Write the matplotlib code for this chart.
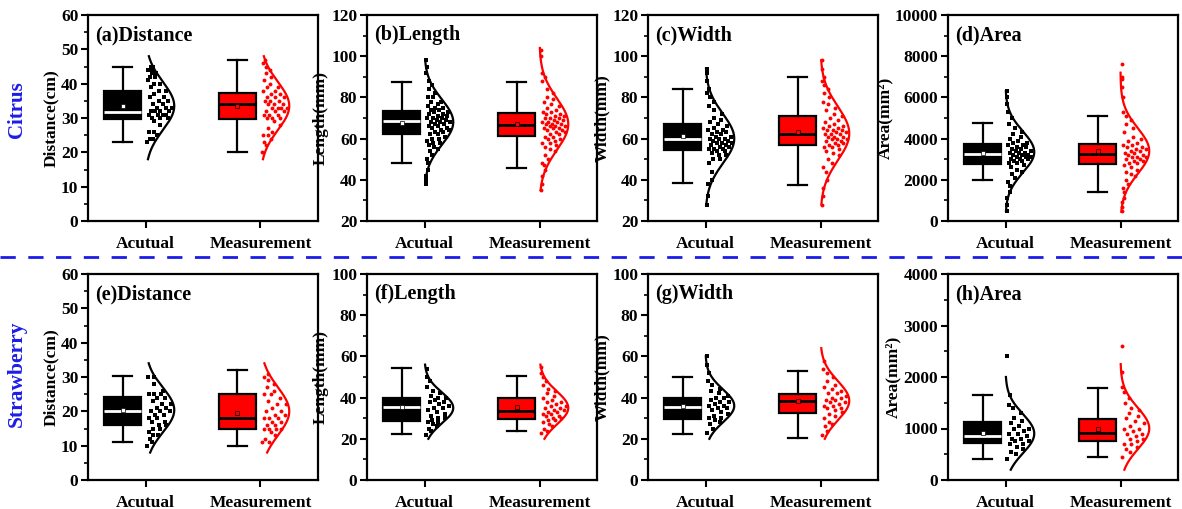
import numpy as np
import matplotlib.pyplot as plt
from matplotlib.ticker import MultipleLocator, AutoMinorLocator

plt.rcParams['font.family'] = ['Liberation Serif', 'DejaVu Serif']
plt.rcParams['font.weight'] = 'bold'

# panel texts and axis ranges
titles = ["(a)Distance", "(b)Length", "(c)Width", "(d)Area",
          "(e)Distance", "(f)Length", "(g)Width", "(h)Area"]
ylabels = ["Distance(cm)", "Length(mm)", "Width(mm)", "Area(mm²)",
           "Distance(cm)", "Length(mm)", "Width(mm)", "Area(mm²)"]
ylims = [(0, 60), (20, 120), (20, 120), (0, 10000),
         (0, 60), (0, 100), (0, 100), (0, 4000)]
ysteps = [10, 20, 20, 2000, 10, 20, 20, 1000]
groups = ["Acutual", "Measurement"]
rows = ["Citrus", "Strawberry"]

# box stats: whisker low, q1, median, q3, whisker high, mean
act_box = [(23, 29.6, 31.8, 38, 45, 33.5),
           (48.2, 62, 68.4, 73.5, 87.3, 67.6),
           (38.4, 54.7, 59.9, 67.3, 84, 61.5),
           (1974, 2767, 3252, 3722, 4773, 3317),
           (11, 15.9, 20.1, 24.3, 30.2, 20.4),
           (22.2, 28.8, 35.6, 40, 54.6, 35.2),
           (22.3, 29.6, 35.6, 39.8, 49.8, 36),
           (401, 712, 854, 1119, 1650, 906)]
mea_box = [(20, 29.8, 34.2, 37.2, 47, 33.6),
           (45.8, 61.1, 66.8, 72.3, 87.6, 67),
           (37.6, 57, 62, 70.8, 89.8, 63.4),
           (1424, 2767, 3252, 3738, 5113, 3414),
           (10, 14.9, 18.1, 25.1, 32.1, 19.6),
           (23.8, 29.5, 33.7, 40, 50.6, 35.3),
           (20.4, 32.5, 38.2, 41.7, 52.8, 38.5),
           (440, 757, 919, 1184, 1786, 990)]

# normal curves: mean, sd, drawn from lo to hi
act_curve = [(33.5, 7, 18, 48), (68, 11, 38, 98), (60, 12, 28, 94),
             (3350, 1000, 500, 6300), (20.4, 6.5, 8, 34), (35, 7.5, 20, 56),
             (36, 8, 20, 60), (900, 380, 200, 2000)]
mea_curve = [(33.5, 7, 18, 48), (67, 12.5, 35, 104), (62.5, 13, 28, 98),
             (3400, 1100, 450, 7200), (20, 7, 8, 34), (35, 8, 20, 56),
             (38.5, 9.5, 20, 64), (1000, 400, 200, 2250)]

# sample points
act_pts = [
    [23, 24, 24, 25, 26, 26, 28, 29, 30, 30, 30, 31, 31, 31, 31, 32, 32, 32, 32, 33,
     33, 33, 34, 34, 35, 35, 36, 36, 37, 38, 38, 39, 40, 40, 41, 42, 42, 43, 43, 44,
     44, 44, 45, 45],
    [38, 40, 42, 45, 48, 50, 52, 54, 55, 56, 57, 58, 58, 59, 60, 60, 61, 62, 62, 63,
     63, 64, 64, 65, 65, 66, 66, 67, 67, 68, 68, 68, 69, 69, 70, 70, 70, 71, 71, 72,
     72, 73, 73, 74, 74, 75, 75, 76, 77, 78, 78, 80, 80, 82, 84, 86, 88, 92, 95, 98],
    [28, 32, 38, 40, 44, 48, 50, 50, 52, 52, 53, 54, 54, 55, 55, 55, 56, 56, 57, 57,
     58, 58, 58, 59, 59, 60, 60, 60, 61, 61, 62, 62, 63, 63, 64, 64, 65, 66, 67, 68,
     69, 70, 72, 74, 76, 78, 80, 82, 84, 88, 92, 94],
    [500, 800, 1100, 1400, 1700, 1900, 2100, 2300, 2400, 2500, 2600, 2700, 2800, 2800,
     2900, 2900, 3000, 3000, 3000, 3100, 3100, 3100, 3200, 3200, 3200, 3300, 3300,
     3300, 3400, 3400, 3500, 3500, 3600, 3600, 3700, 3700, 3800, 3800, 3900, 4000,
     4100, 4200, 4300, 4500, 4700, 5000, 5300, 5700, 6000, 6300],
    [10, 11, 12, 13, 13, 14, 15, 15, 16, 16, 17, 17, 18, 18, 19, 19, 20, 20, 20, 21,
     21, 22, 22, 23, 24, 24, 25, 25, 25, 26, 28, 30, 30],
    [22, 24, 25, 26, 27, 28, 28, 29, 30, 30, 31, 32, 33, 34, 35, 35, 36, 37, 38, 38,
     39, 40, 40, 41, 42, 43, 45, 48, 50, 54],
    [23, 25, 27, 28, 29, 30, 30, 31, 32, 33, 34, 35, 35, 36, 36, 37, 38, 38, 39, 40,
     40, 41, 42, 43, 44, 46, 48, 52, 56, 60],
    [400, 500, 550, 600, 650, 700, 700, 750, 750, 800, 800, 850, 900, 900, 950, 1000,
     1000, 1050, 1100, 1150, 1200, 1300, 1400, 1450, 1650, 2400],
]
mea_pts = [
    [20, 22, 23, 24, 25, 25, 26, 27, 28, 29, 30, 30, 30, 31, 31, 31, 32, 32, 32, 33,
     33, 33, 33, 34, 34, 34, 35, 35, 35, 36, 36, 36, 37, 37, 38, 38, 39, 39, 40, 41,
     42, 43, 44, 45, 46, 47],
    [35, 38, 42, 45, 47, 48, 50, 52, 54, 55, 56, 57, 58, 58, 59, 60, 60, 61, 61, 62,
     62, 63, 63, 64, 64, 65, 65, 65, 66, 66, 66, 67, 67, 67, 68, 68, 68, 69, 69, 70,
     70, 70, 71, 71, 72, 72, 73, 73, 74, 75, 76, 77, 78, 79, 80, 82, 84, 88, 90, 92,
     100, 103],
    [28, 32, 36, 40, 44, 46, 48, 50, 52, 53, 54, 55, 56, 56, 57, 57, 58, 58, 59, 59,
     60, 60, 60, 61, 61, 61, 62, 62, 62, 63, 63, 64, 64, 64, 65, 65, 66, 66, 67, 68,
     69, 70, 71, 72, 74, 75, 77, 78, 80, 82, 84, 86, 88, 90, 94, 98],
    [500, 700, 900, 1100, 1400, 1600, 1800, 2000, 2200, 2300, 2400, 2500, 2600, 2700,
     2800, 2800, 2900, 2900, 3000, 3000, 3100, 3100, 3100, 3200, 3200, 3300, 3300,
     3400, 3400, 3500, 3500, 3600, 3600, 3700, 3700, 3800, 3900, 4000, 4100, 4300,
     4500, 4700, 4900, 5100, 5300, 6000, 6500, 6900, 7000, 7600],
    [11, 11, 12, 13, 14, 15, 15, 15, 15, 16, 16, 17, 17, 18, 18, 18, 19, 19, 20, 20,
     21, 22, 22, 23, 24, 25, 25, 26, 27, 28, 29, 30, 31],
    [23, 24, 25, 26, 27, 28, 29, 29, 30, 30, 31, 31, 32, 32, 33, 33, 34, 34, 35, 35,
     36, 36, 37, 38, 38, 39, 40, 41, 42, 43, 44, 46, 48, 50, 52, 55],
    [22, 24, 26, 27, 28, 30, 31, 32, 33, 34, 35, 35, 36, 36, 37, 38, 38, 39, 39, 40,
     40, 41, 42, 42, 43, 44, 45, 46, 48, 50, 52, 54, 58],
    [450, 550, 600, 650, 700, 700, 750, 800, 800, 850, 900, 900, 950, 1000, 1000, 1050,
     1100, 1150, 1200, 1250, 1300, 1350, 1400, 1500, 1600, 1700, 1800, 2100, 2600],
]

W, H = 1182, 509
fig = plt.figure(figsize=(W / 100, H / 100), dpi=100)

lefts = [88, 367, 648, 948]
tops = [15, 274]
aw, ah = 230, 206

PEAK = 0.25
BLUE = '#1c1ce8'


def draw_group(ax, pos, box, curve, pts, color, medcol, meanface, marker):
    lo, q1, med, q3, hi, mean = box
    st = [dict(whislo=lo, q1=q1, med=med, q3=q3, whishi=hi, mean=mean, fliers=[])]
    ax.bxp(st, positions=[pos - 0.2], widths=0.33, capwidths=[0.17],
           patch_artist=True, showmeans=True, manage_ticks=False,
           boxprops=dict(facecolor=color, edgecolor='black', linewidth=1.6),
           medianprops=dict(color=medcol, linewidth=2),
           whiskerprops=dict(color='black', linewidth=1.6),
           capprops=dict(color='black', linewidth=1.6),
           meanprops=dict(marker='s', markersize=2.5, markerfacecolor=meanface,
                          markeredgecolor='black', markeredgewidth=0.5))
    m, s, clo, chi = curve
    yy = np.linspace(clo, chi, 200)
    ax.plot(pos + PEAK * np.exp(-0.5 * ((yy - m) / s) ** 2), yy, color=color, lw=1.6)
    pts = np.array(pts, dtype=float)
    wid = PEAK * np.exp(-0.5 * ((pts - m) / s) ** 2)
    frac = 0.05 + 0.85 * ((np.arange(len(pts)) * 0.618034) % 1)
    ax.plot(pos + 0.01 + frac * wid, pts, linestyle='none', marker=marker,
            markersize=2.8, color=color, markeredgewidth=0)


for i in range(8):
    r, c = divmod(i, 4)
    ax = fig.add_axes([lefts[c] / W, (H - tops[r] - ah) / H, aw / W, ah / H])
    draw_group(ax, 1, act_box[i], act_curve[i], act_pts[i], 'black', 'white', 'white', 's')
    draw_group(ax, 2, mea_box[i], mea_curve[i], mea_pts[i], 'red', 'black', 'red', 'o')
    ax.set_xlim(0.5, 2.5)
    ax.set_ylim(*ylims[i])
    ax.set_xticks([1, 2])
    ax.set_xticklabels(groups, fontsize=12.5, fontweight='bold')
    ax.yaxis.set_major_locator(MultipleLocator(ysteps[i]))
    ax.yaxis.set_minor_locator(AutoMinorLocator(2))
    ax.tick_params(axis='both', which='major', direction='out', length=5, width=1.5,
                   labelsize=12.5, pad=2)
    ax.tick_params(axis='x', labelsize=12.5, pad=6)
    ax.tick_params(axis='y', which='minor', direction='out', length=3, width=1.2)
    for sp in ax.spines.values():
        sp.set_linewidth(1.6)
    ax.set_ylabel(ylabels[i], fontsize=12.5, fontweight='bold', labelpad=1.5)
    ax.text(0.03, 0.95, titles[i], transform=ax.transAxes, fontsize=14.5,
            fontweight='bold', va='top', ha='left')

fig.text(17 / W, 1 - 110 / H, rows[0], rotation=90, color=BLUE, fontsize=15,
         fontweight='bold', ha='center', va='center')
fig.text(17 / W, 1 - 374 / H, rows[1], rotation=90, color=BLUE, fontsize=15.5,
         fontweight='bold', ha='center', va='center')
fig.add_artist(plt.Line2D([0, 1], [1 - 257 / H, 1 - 257 / H], color=BLUE,
                          lw=2, linestyle=(0, (5.5, 4.5)), transform=fig.transFigure))

fig.savefig("out.png", dpi=100)
